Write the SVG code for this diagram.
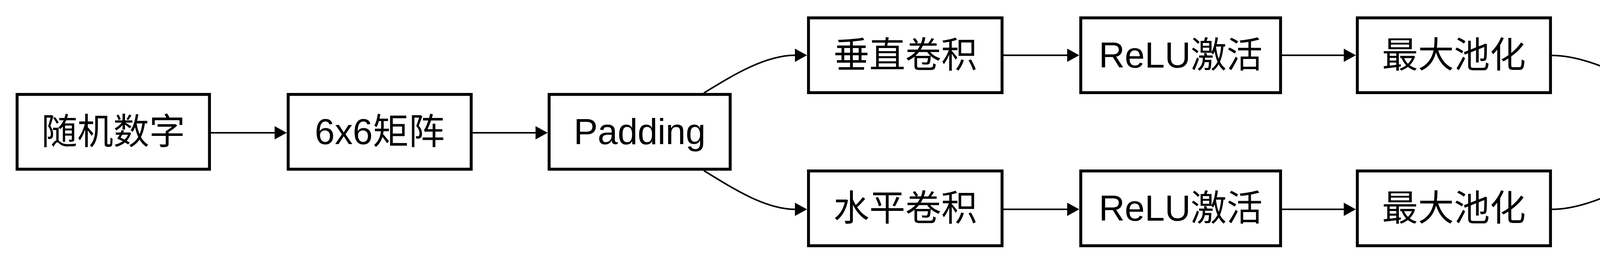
<svg xmlns="http://www.w3.org/2000/svg" width="5344" height="676" viewBox="0 0 5344 676">
<style>
.box{fill:#fff;stroke:#000;stroke-width:7.5}
.lbl{font-family:"Liberation Sans","Noto Sans CJK SC",sans-serif;font-size:92px;fill:#000;text-anchor:middle}
.edge{fill:none;stroke:#000;stroke-width:4}
.head{fill:#000;stroke:none}
</style>
<rect width="5344" height="676" fill="#fff"/>
<g id="connectors">
<path class="edge" d="M540,340H704"/>
<polygon class="head" points="734,340 703,323 703,357"/>
<path class="edge" d="M1210,340H1372"/>
<polygon class="head" points="1402,340 1371,323 1371,357"/>
<path class="edge" d="M1802,238C1880,190 1960,141.5 2036,141.5"/>
<polygon class="head" points="2066,141.5 2035,124.5 2035,158.5"/>
<path class="edge" d="M1802,437C1880,485 1960,536 2036,536"/>
<polygon class="head" points="2066,536 2035,519 2035,553"/>
<path class="edge" d="M2569,141.5H2733"/>
<polygon class="head" points="2763,141.5 2732,124.5 2732,158.5"/>
<path class="edge" d="M2569,536H2733"/>
<polygon class="head" points="2763,536 2732,519 2732,553"/>
<path class="edge" d="M3282,141.5H3441"/>
<polygon class="head" points="3471,141.5 3440,124.5 3440,158.5"/>
<path class="edge" d="M3282,536H3441"/>
<polygon class="head" points="3471,536 3440,519 3440,553"/>
<path class="edge" d="M3973,142C4060,142 4160,195 4222,228"/>
<polygon class="head" points="4227,211 4211,241 4247,241"/>
<path class="edge" d="M3973,536C4060,536 4160,482 4224,448"/>
<polygon class="head" points="4232,465 4215,434 4251,434"/>
<path class="edge" d="M4669,340H4832"/>
<polygon class="head" points="4862,340 4831,323 4831,357"/>
</g>
<g id="n_random"><rect class="box" x="43.75" y="241.75" width="492.5" height="191.5"/><text class="lbl" x="290" y="369">随机数字</text></g>
<g id="n_matrix"><rect class="box" x="737.75" y="241.75" width="468.5" height="191.5"/><text class="lbl" x="972" y="369">6x6矩阵</text></g>
<g id="n_padding"><rect class="box" x="1405.75" y="241.75" width="463.5" height="191.5"/><text class="lbl" x="1637.5" y="369">Padding</text></g>
<g id="n_vconv"><rect class="box" x="2069.75" y="45.75" width="495.5" height="191.5"/><text class="lbl" x="2317.5" y="173">垂直卷积</text></g>
<g id="n_hconv"><rect class="box" x="2069.75" y="437.75" width="495.5" height="191.5"/><text class="lbl" x="2317.5" y="565">水平卷积</text></g>
<g id="n_relu_v"><rect class="box" x="2766.75" y="45.75" width="511.5" height="191.5"/><text class="lbl" x="3022.5" y="173">ReLU激活</text></g>
<g id="n_relu_h"><rect class="box" x="2766.75" y="437.75" width="511.5" height="191.5"/><text class="lbl" x="3022.5" y="565">ReLU激活</text></g>
<g id="n_pool_v"><rect class="box" x="3474.75" y="45.75" width="494.5" height="191.5"/><text class="lbl" x="3722" y="173">最大池化</text></g>
<g id="n_pool_h"><rect class="box" x="3474.75" y="437.75" width="494.5" height="191.5"/><text class="lbl" x="3722" y="565">最大池化</text></g>
<g id="n_merge"><rect class="box" x="4170.75" y="241.75" width="494.5" height="191.5"/><text class="lbl" x="4418" y="369">特征合并</text></g>
<g id="n_vis"><rect class="box" x="4865.75" y="241.75" width="432.5" height="191.5"/><text class="lbl" x="5082" y="369">可视化</text></g>
</svg>
